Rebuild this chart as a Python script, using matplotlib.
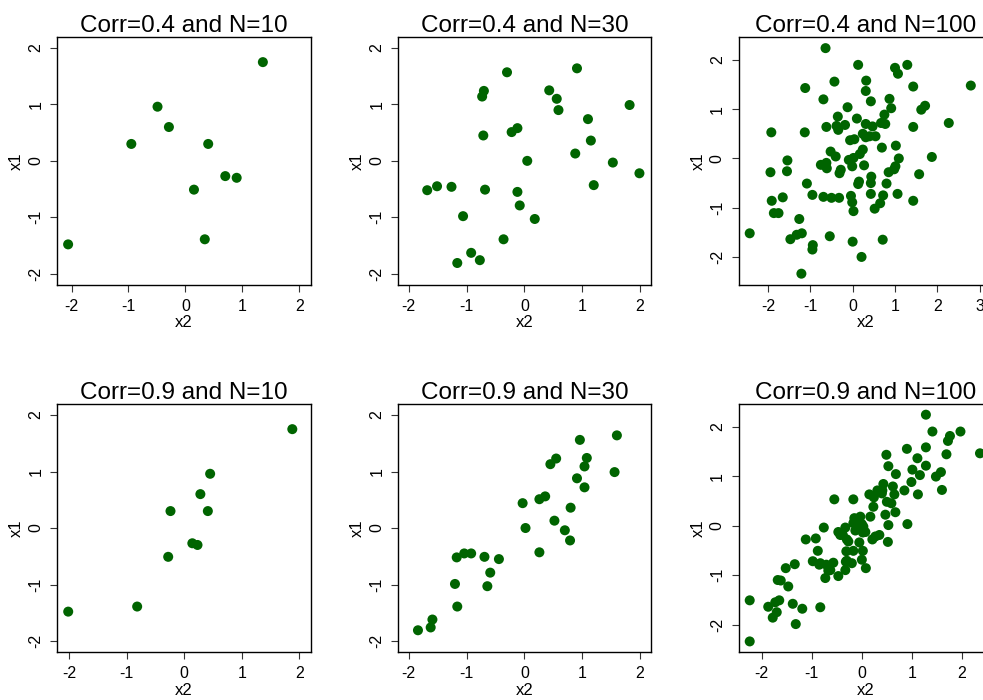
import matplotlib
matplotlib.use("Agg")
import matplotlib.pyplot as plt

plt.rcParams['font.family'] = ['Liberation Sans', 'DejaVu Sans']

# ---- data ----
# N=10: x1 shared, x2 for corr 0.4 and 0.9
n10_x1 = [1.75, 0.96, 0.60, 0.30, 0.30, -0.27, -0.30, -0.51, -1.39, -1.48]
c4_n10_x2 = [1.36, -0.49, -0.29, -0.95, 0.40, 0.70, 0.90, 0.15, 0.34, -2.06]
c9_n10_x2 = [1.88, 0.45, 0.28, -0.24, 0.41, 0.14, 0.23, -0.28, -0.82, -2.02]

# N=30
c4_n30_x2 = [-0.30, 0.91, -0.70, -0.73, 0.43, 0.56, 0.59, 1.82, 1.10, -0.71,
             -0.22, -0.12, 1.15, 0.88, 0.05, 1.53, 1.99, 1.20, -1.68, -1.51,
             -1.26, -0.68, -0.12, -0.08, 0.18, -1.06, -0.36, -0.92, -0.77, -1.16]
c4_n30_x1 = [1.57, 1.64, 1.24, 1.14, 1.25, 1.10, 0.90, 0.99, 0.74, 0.45,
             0.51, 0.58, 0.36, 0.13, 0.00, -0.03, -0.22, -0.43, -0.52, -0.45,
             -0.46, -0.51, -0.55, -0.79, -1.03, -0.98, -1.39, -1.63, -1.76, -1.81]
c9_n30_x2 = [1.60, 0.96, 0.55, 0.45, 1.08, 1.04, 1.56, 0.91, 1.04, -0.03,
             0.26, 0.36, 0.80, 0.52, 0.02, 0.70, 0.79, 0.26, -1.17, -1.04,
             -0.92, -0.69, -0.44, -0.59, -0.64, -1.20, -1.16, -1.59, -1.62, -1.84]
c9_n30_x1 = [1.64, 1.56, 1.23, 1.13, 1.24, 1.09, 0.99, 0.88, 0.72, 0.44,
             0.51, 0.56, 0.36, 0.13, 0.00, -0.04, -0.22, -0.43, -0.52, -0.45,
             -0.45, -0.51, -0.55, -0.79, -1.03, -0.99, -1.39, -1.62, -1.76, -1.81]

# N=100, corr 0.4
c4_n100_x2 = [-0.64, 0.13, 1.29, 1.00, 1.07, -0.43, 0.32, -1.12, 0.31, 1.43,
              2.79, -0.69, 0.43, 0.87, -0.12, 0.91, 1.62, 1.71, -0.35, 0.10,
              0.75, -0.62, -0.18, 0.31, 0.47, 0.67, 0.77, 1.43, 2.27, -1.92,
              -1.13, -0.38, -0.34, 0.24, 0.31, 0.54, 0.40, -0.06, 0.04, 1.02,
              0.69, 0.24, 0.17, -0.52, -0.40, 1.09, 1.87, -1.54, -0.09, 0.02,
              -0.75, -0.61, -0.01, 0.27, -1.94, -1.55, -0.28, -0.31, 0.85, 0.98,
              1.01, 1.57, 0.44, 0.15, 0.13, -1.08, 0.43, 0.80, -0.95, -0.69,
              -0.50, -0.32, -0.04, 0.43, 1.06, 0.72, -0.01, 0.02, 0.52, 0.65,
              -1.91, -1.65, 1.43, -1.86, -1.75, -1.26, -2.43, -1.47, -1.32, -1.20,
              -0.94, -0.95, -0.54, 0.00, 0.71, 0.21, -1.21, -0.62]
c4_n100_x1 = [2.24, 1.90, 1.90, 1.84, 1.72, 1.56, 1.58, 1.43, 1.37, 1.46,
              1.48, 1.20, 1.16, 1.21, 1.04, 1.02, 0.99, 1.07, 0.85, 0.81,
              0.89, 0.64, 0.68, 0.70, 0.65, 0.72, 0.70, 0.64, 0.72, 0.53,
              0.53, 0.66, 0.58, 0.50, 0.43, 0.45, 0.45, 0.37, 0.39, 0.26,
              0.22, 0.18, 0.09, 0.14, 0.04, 0.00, 0.03, -0.04, -0.03, 0.01,
              -0.13, -0.20, -0.16, -0.14, -0.28, -0.26, -0.23, -0.30, -0.28, -0.22,
              -0.16, -0.32, -0.37, -0.47, -0.52, -0.51, -0.50, -0.51, -0.74, -0.78,
              -0.80, -0.80, -0.76, -0.72, -0.72, -0.75, -0.89, -1.07, -1.02, -0.91,
              -0.86, -0.79, -0.86, -1.11, -1.11, -1.23, -1.52, -1.64, -1.55, -1.52,
              -1.76, -1.85, -1.58, -1.69, -1.65, -2.00, -2.34, -0.09]

# N=100, corr 0.9
c9_n100_x2 = [1.28, 1.41, 1.97, 1.76, 1.72, 0.90, 1.28, 0.49, 1.69, 2.36,
              1.11, 0.53, 1.28, 1.01, 0.68, 1.16, 1.58, 1.48, 0.99, 1.60,
              1.12, 0.43, 0.62, 0.85, 0.31, 0.40, 0.15, 0.24, 0.65, -0.55,
              -0.17, 0.50, 0.59, 0.23, 0.47, 0.67, 0.17, -0.15, 0.53, 0.91,
              -0.76, -0.33, -0.17, 0.00, -0.47, -0.38, -0.30, -0.13, 0.02, -0.05,
              -1.12, -0.92, -0.88, 0.21, 0.35, 0.52, -0.31, -0.17, 0.02, -0.98,
              -0.83, -0.71, -0.57, -0.32, -0.20, 0.00, 0.08, -0.63, -0.73, -0.47,
              -0.33, -1.34, -1.52, -1.68, -1.62, -1.47, -2.24, -1.87, -1.73, -1.65,
              -1.70, -1.78, -1.38, -1.19, -0.83, -1.32, -2.24, 0.07, 0.27, 0.33,
              -0.30, -0.67, -0.85, -0.07, 0.03, -0.43, 0.41, -0.27, -0.03]
c9_n100_x1 = [2.24, 1.90, 1.90, 1.81, 1.71, 1.55, 1.58, 1.43, 1.44, 1.46,
              1.36, 1.20, 1.21, 1.13, 1.04, 1.02, 1.08, 0.99, 0.88, 0.72,
              0.63, 0.84, 0.79, 0.71, 0.71, 0.65, 0.63, 0.57, 0.63, 0.53,
              0.53, 0.48, 0.45, 0.38, 0.22, 0.27, 0.18, 0.15, 0.01, 0.03,
              -0.04, -0.04, 0.05, 0.03, -0.13, -0.19, -0.28, -0.10, -0.14, -0.34,
              -0.28, -0.26, -0.51, -0.28, -0.19, -0.33, -0.52, -0.51, -0.51, -0.72,
              -0.76, -0.79, -0.75, -0.73, -0.76, -0.69, -0.86, -0.90, -1.06, -1.02,
              -0.90, -0.78, -0.86, -1.10, -1.11, -1.23, -1.51, -1.64, -1.55, -1.51,
              -1.75, -1.86, -1.58, -1.68, -1.65, -1.99, -2.34, -0.13, -0.22, 0.69,
              -0.71, -0.91, -0.79, -0.07, -0.02, -0.19, 0.71, -0.32, 0.18]

titles = ["Corr=0.4 and N=10", "Corr=0.4 and N=30", "Corr=0.4 and N=100",
          "Corr=0.9 and N=10", "Corr=0.9 and N=30", "Corr=0.9 and N=100"]
panels = [(c4_n10_x2, n10_x1), (c4_n30_x2, c4_n30_x1), (c4_n100_x2, c4_n100_x1),
          (c9_n10_x2, n10_x1), (c9_n30_x2, c9_n30_x1), (c9_n100_x2, c9_n100_x1)]

# axes boxes in pixels: left, top, right, bottom ; and limits
W, H = 983, 700
boxes = [(57.3, 37.3, 310.7, 285), (398.3, 37.3, 651, 285), (738.7, 37.3, 992, 285),
         (57.3, 404.3, 310.7, 652.3), (398.3, 404.3, 651, 652.3), (738.7, 404.3, 992, 652.3)]
xlims = [(-2.25, 2.2), (-2.18, 2.19), (-2.69, 3.29),
         (-2.21, 2.2), (-2.18, 2.19), (-2.46, 2.60)]
ylims = [(-2.2, 2.19), (-2.2, 2.19), (-2.57, 2.46),
         (-2.2, 2.19), (-2.2, 2.19), (-2.56, 2.45)]
xticks = [[-2, -1, 0, 1, 2]] * 2 + [[-2, -1, 0, 1, 2, 3]] + [[-2, -1, 0, 1, 2]] * 3

fig = plt.figure(figsize=(W / 100, H / 100), dpi=100)
for i in range(6):
    l, t, r, b = boxes[i]
    ax = fig.add_axes([l / W, 1 - b / H, (r - l) / W, (b - t) / H])
    x, y = panels[i]
    ax.scatter(x, y, s=52, color='#006400', edgecolors='none', zorder=3)
    ax.set_xlim(*xlims[i])
    ax.set_ylim(*ylims[i])
    ax.set_xticks(xticks[i])
    ax.set_yticks([-2, -1, 0, 1, 2])
    ax.set_xticklabels([str(v) for v in xticks[i]])
    ax.set_yticklabels(['-2', '-1', '0', '1', '2'], rotation=90, va='center')
    ax.tick_params(direction='out', length=5, width=0.8, color='#333333', labelsize=11.5)
    ax.tick_params(axis='x', pad=5)
    ax.tick_params(axis='y', pad=5)
    for s in ax.spines.values():
        s.set_linewidth(1.0)
    ax.set_xlabel('x2', fontsize=12, labelpad=1)
    ax.set_ylabel('x1', fontsize=12, labelpad=3)
    ax.set_title(titles[i], fontsize=17.5, pad=4)

fig.savefig('out.png', dpi=100)
